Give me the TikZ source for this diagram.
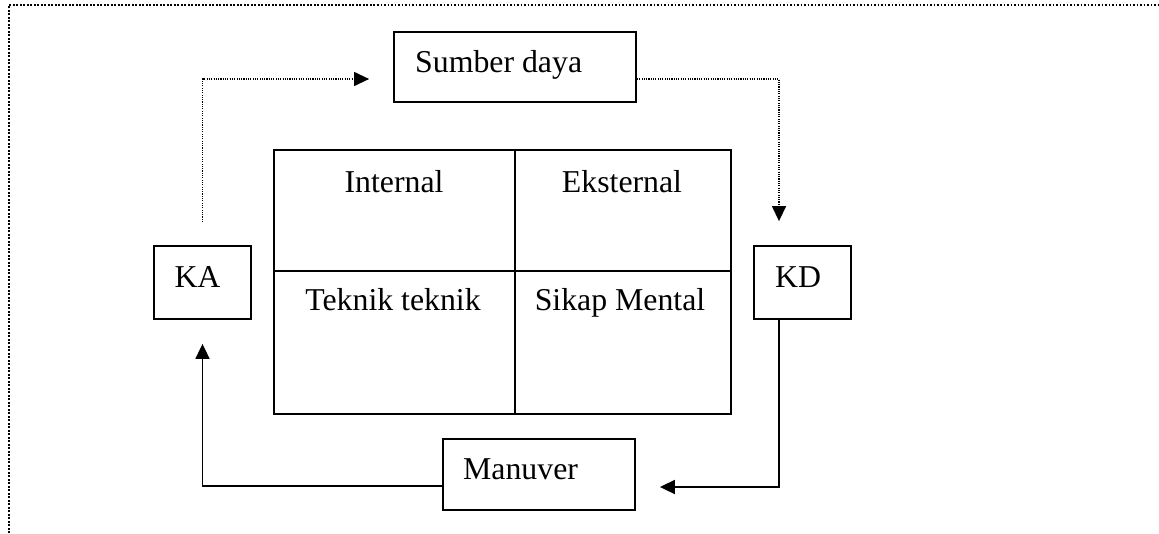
\documentclass[tikz,border=0pt]{standalone}
\usepackage{fontspec}
\setmainfont{Liberation Serif}
\usetikzlibrary{arrows.meta}
\begin{document}
\begin{tikzpicture}[x=1pt,y=-1pt,
  box/.style={draw, line width=1.8pt, rectangle, inner sep=0pt},
  txt/.style={inner sep=0pt, font=\fontsize{31.8}{38}\selectfont},
  solidarrow/.style={draw, line width=1.8pt, -{Triangle[length=15pt,width=14pt]}},
  dotarrow/.style={draw, line width=1.3pt, dash pattern=on 1.1pt off 1.2pt, -{Triangle[length=15pt,width=14pt]}},
  frameline/.style={draw, line width=1.8pt, dash pattern=on 1.8pt off 1.7pt}]
\useasboundingbox (0,0) rectangle (1159,533);
% frame
\coordinate (f1) at (9,533);
\coordinate (f2) at (9,5);
\coordinate (f3) at (1159,5);
\draw[frameline] (f1) -- (f2) -- (f3);
% boxes
\node[box, minimum width=242pt, minimum height=70pt] (sd) at (515,67) {};
\node[txt, anchor=base west] (sdt) at (415,72) {Sumber daya};
\node[box, minimum width=97pt, minimum height=73pt] (ka) at (202.5,282.5) {};
\node[txt, anchor=base] (kat) at (197.5,287) {KA};
\node[box, minimum width=97pt, minimum height=73pt] (kd) at (802.5,282.5) {};
\node[txt, anchor=base] (kdt) at (798,287) {KD};
\node[box, minimum width=192pt, minimum height=71pt] (man) at (539,474.5) {};
\node[txt, anchor=base west] (mant) at (463,479) {Manuver};
% table
\node[box, minimum width=241pt, minimum height=121pt] (c11) at (394.5,210.5) {};
\node[box, minimum width=216pt, minimum height=121pt] (c12) at (623,210.5) {};
\node[box, minimum width=241pt, minimum height=143pt] (c21) at (394.5,342.5) {};
\node[box, minimum width=216pt, minimum height=143pt] (c22) at (623,342.5) {};
\node[txt, anchor=base] (t11) at (394,192) {Internal};
\node[txt, anchor=base] (t12) at (622,192) {Eksternal};
\node[txt, anchor=base] (t21) at (393,310) {Teknik teknik};
\node[txt, anchor=base] (t22) at (620,310) {Sikap Mental};
% connectors
\draw[dotarrow, shorten <=23pt, shorten >=24pt] (ka.north) |- ([yshift=-12pt]sd.west);
\draw[dotarrow, shorten >=24pt] ([yshift=-12pt]sd.east) -| ([xshift=-23.5pt]kd.north);
\draw[solidarrow, shorten >=24pt] ([xshift=-23.5pt]kd.south) |- ([yshift=-12.5pt]man.east);
\draw[solidarrow, shorten >=24pt] ([yshift=-11.5pt]man.west) -| (ka.south);
\end{tikzpicture}
\end{document}
